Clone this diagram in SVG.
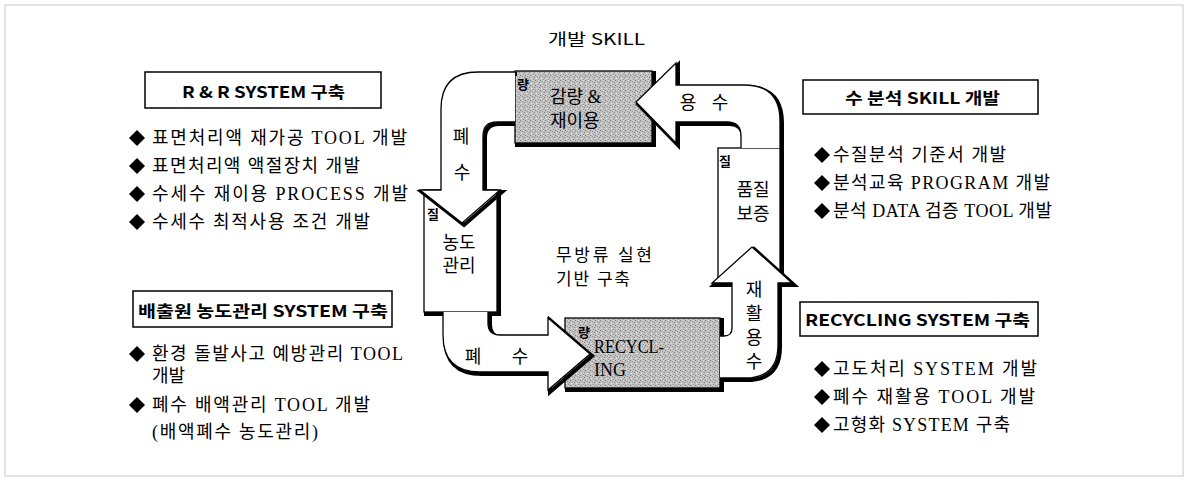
<svg xmlns="http://www.w3.org/2000/svg" width="1188" height="482" viewBox="0 0 1188 482">
<defs>
<pattern id="grain" width="5" height="5" patternUnits="userSpaceOnUse">
<rect width="5" height="5" fill="#c2c2c2"/>
<rect x="0" y="0" width="1" height="1" fill="#7a7a7a"/>
<rect x="2" y="1" width="1" height="1" fill="#969696"/>
<rect x="4" y="2" width="1" height="1" fill="#858585"/>
<rect x="1" y="3" width="1" height="1" fill="#e4e4e4"/>
<rect x="3" y="4" width="1" height="1" fill="#909090"/>
<rect x="3" y="0" width="1" height="1" fill="#dedede"/>
</pattern>
<style>
.frame{fill:none;stroke:#c8c8c8;stroke-width:1}
.tbox{fill:#fff;stroke:#000;stroke-width:1.5}
.sh{fill:none;stroke:#000;stroke-width:4;stroke-linejoin:miter}
.wf{fill:#fff;stroke:#000;stroke-width:1.3;stroke-linejoin:miter}
.gf{fill:url(#grain);stroke:#000;stroke-width:1.3}
.sans{font-family:"Noto Sans CJK KR","Liberation Sans",sans-serif;fill:#000}
.ttl{font-size:16px;font-weight:bold}
.hd{font-size:16px;font-weight:normal}
.ser{font-family:"Liberation Serif","Noto Sans CJK KR",serif;font-size:18px;fill:#000}
.ctr{font-family:"Liberation Serif","Noto Sans CJK KR",serif;font-size:17px;fill:#000}
.lbl{font-family:"Liberation Serif","Noto Sans CJK KR",serif;font-size:18px;fill:#000}
.sm{font-family:"Noto Sans CJK KR",sans-serif;font-size:13px;font-weight:bold;fill:#000}
.dia{fill:#000}
</style>
</defs>
<rect class="frame" x="5" y="5" width="1178" height="471"/>

<g id="title"><text class="sans hd" x="548" y="38" dominant-baseline="central" textLength="97" lengthAdjust="spacingAndGlyphs">개발 SKILL</text></g>

<g id="rr-system">
<rect class="tbox" x="145" y="72" width="236" height="36"/>
<text class="sans ttl" x="182" y="91" dominant-baseline="central" textLength="163" lengthAdjust="spacingAndGlyphs">R &amp; R SYSTEM 구축</text>
<polygon class="dia" points="137,130 145,138 137,146 129,138"/>
<text class="ser" x="152" y="138" dominant-baseline="central" textLength="255" lengthAdjust="spacing">표면처리액 재가공 TOOL 개발</text>
<polygon class="dia" points="137,158 145,166 137,174 129,166"/>
<text class="ser" x="152" y="166" dominant-baseline="central" textLength="208" lengthAdjust="spacing">표면처리액 액절장치 개발</text>
<polygon class="dia" points="137,186 145,194 137,202 129,194"/>
<text class="ser" x="152" y="194" dominant-baseline="central" textLength="256" lengthAdjust="spacing">수세수 재이용 PROCESS 개발</text>
<polygon class="dia" points="137,214 145,222 137,230 129,222"/>
<text class="ser" x="152" y="222" dominant-baseline="central" textLength="218" lengthAdjust="spacing">수세수 최적사용 조건 개발</text>
</g>

<g id="source-system">
<rect class="tbox" x="133" y="291" width="259" height="36"/>
<text class="sans ttl" x="138" y="310" dominant-baseline="central" textLength="250" lengthAdjust="spacingAndGlyphs">배출원 농도관리 SYSTEM 구축</text>
<polygon class="dia" points="137,346 145,354 137,362 129,354"/>
<text class="ser" x="152" y="354" dominant-baseline="central" textLength="251" lengthAdjust="spacing">환경 돌발사고 예방관리 TOOL</text>
<text class="ser" x="152" y="376" dominant-baseline="central">개발</text>
<polygon class="dia" points="137,397 145,405 137,413 129,405"/>
<text class="ser" x="152" y="405" dominant-baseline="central" textLength="218" lengthAdjust="spacing">폐수 배액관리 TOOL 개발</text>
<text class="ser" x="152" y="432" dominant-baseline="central" textLength="166" lengthAdjust="spacing">(배액폐수 농도관리)</text>
</g>

<g id="analysis-skill">
<rect class="tbox" x="803" y="80" width="235" height="34"/>
<text class="sans ttl" x="845" y="97" dominant-baseline="central" textLength="155" lengthAdjust="spacingAndGlyphs">수 분석 SKILL 개발</text>
<polygon class="dia" points="822,147 830,155 822,163 814,155"/>
<text class="ser" x="833" y="155" dominant-baseline="central" textLength="173" lengthAdjust="spacing">수질분석 기준서 개발</text>
<polygon class="dia" points="822,175 830,183 822,191 814,183"/>
<text class="ser" x="833" y="183" dominant-baseline="central" textLength="217" lengthAdjust="spacing">분석교육 PROGRAM 개발</text>
<polygon class="dia" points="822,203 830,211 822,219 814,211"/>
<text class="ser" x="833" y="211" dominant-baseline="central" textLength="219" lengthAdjust="spacing">분석 DATA 검증 TOOL 개발</text>
</g>

<g id="recycling-system">
<rect class="tbox" x="800" y="302" width="238" height="34"/>
<text class="sans ttl" x="805" y="319" dominant-baseline="central" textLength="225" lengthAdjust="spacingAndGlyphs">RECYCLING SYSTEM 구축</text>
<polygon class="dia" points="822,361 830,369 822,377 814,369"/>
<text class="ser" x="833" y="369" dominant-baseline="central" textLength="204" lengthAdjust="spacing">고도처리 SYSTEM 개발</text>
<polygon class="dia" points="822,389 830,397 822,405 814,397"/>
<text class="ser" x="833" y="397" dominant-baseline="central" textLength="202" lengthAdjust="spacing">폐수 재활용 TOOL 개발</text>
<polygon class="dia" points="822,417 830,425 822,433 814,425"/>
<text class="ser" x="833" y="425" dominant-baseline="central" textLength="177" lengthAdjust="spacing">고형화 SYSTEM 구축</text>
</g>

<g id="center-text">
<text class="ctr" x="556" y="255" dominant-baseline="central" textLength="96" lengthAdjust="spacing">무방류 실현</text>
<text class="ctr" x="556" y="279" dominant-baseline="central" textLength="74" lengthAdjust="spacing">기반 구축</text>
</g>

<g id="node-reduce">
<rect class="sh" x="517" y="73" width="137" height="72"/>
<rect class="gf" x="515" y="71" width="137" height="72"/>
<text class="sm" x="523" y="83" text-anchor="middle" dominant-baseline="central">량</text>
<text class="lbl" x="550" y="97" dominant-baseline="central">감량 &amp;</text>
<text class="lbl" x="550" y="121" dominant-baseline="central">재이용</text>
</g>

<g id="node-recycling">
<rect class="sh" x="567" y="320" width="155" height="70"/>
<rect class="gf" x="565" y="318" width="155" height="70"/>
<text class="sm" x="584" y="331" text-anchor="middle" dominant-baseline="central">량</text>
<text class="lbl" x="594" y="347" dominant-baseline="central" textLength="70" lengthAdjust="spacingAndGlyphs">RECYCL-</text>
<text class="lbl" x="594" y="370" dominant-baseline="central">ING</text>
</g>

<g id="node-concentration">
<rect class="sh" x="426" y="192" width="73" height="122"/>
<rect class="wf" x="424" y="190" width="73" height="122"/>
<text class="sm" x="433" y="213" text-anchor="middle" dominant-baseline="central">질</text>
<text class="lbl" x="459" y="243" text-anchor="middle" dominant-baseline="central">농도</text>
<text class="lbl" x="459" y="266" text-anchor="middle" dominant-baseline="central">관리</text>
</g>

<g id="node-quality">
<rect class="sh" x="720" y="150" width="62" height="135"/>
<rect class="wf" x="718" y="148" width="62" height="135"/>
<text class="sm" x="725" y="160" text-anchor="middle" dominant-baseline="central">질</text>
<text class="lbl" x="753" y="190" text-anchor="middle" dominant-baseline="central">품질</text>
<text class="lbl" x="753" y="214" text-anchor="middle" dominant-baseline="central">보증</text>
</g>

<g id="connectors">
<g id="arrow-wastewater-down">
<path class="sh" transform="translate(2,2)" d="M515,72 L478,72 Q441,72 441,109 L441,190 L420,190 L462,223 L500,190 L483,190 L483,136 Q483,122 497,122 L513,122"/>
<path class="wf" d="M515,72 L478,72 Q441,72 441,109 L441,190 L420,190 L462,223 L500,190 L483,190 L483,136 Q483,122 497,122 L515,122"/>
<text class="lbl" x="461" y="137" text-anchor="middle" dominant-baseline="central">폐</text>
<text class="lbl" x="462" y="173" text-anchor="middle" dominant-baseline="central">수</text>
</g>
<g id="arrow-wastewater-right">
<path class="sh" transform="translate(2,2)" d="M443,312 L443,335 Q443,372 480,372 L548,372 L548,390 L590,354 L548,318 L548,335 L500,335 Q488,335 488,323 L488,312"/>
<path class="wf" d="M443,312 L443,335 Q443,372 480,372 L548,372 L548,390 L590,354 L548,318 L548,335 L500,335 Q488,335 488,323 L488,312"/>
<text class="lbl" x="473" y="357" text-anchor="middle" dominant-baseline="central">폐</text>
<text class="lbl" x="520" y="357" text-anchor="middle" dominant-baseline="central">수</text>
</g>
<g id="arrow-reuse-up">
<path class="sh" transform="translate(2,2)" d="M720,336 L724,336 Q732,336 732,328 L732,283 L712,283 L752,247 L792,283 L778,283 L778,345 Q778,378 745,378 L718,378"/>
<path class="wf" d="M720,336 L724,336 Q732,336 732,328 L732,283 L712,283 L752,247 L792,283 L778,283 L778,345 Q778,378 745,378 L720,378"/>
<text class="lbl" x="754" y="290" text-anchor="middle" dominant-baseline="central">재</text>
<text class="lbl" x="754" y="314" text-anchor="middle" dominant-baseline="central">활</text>
<text class="lbl" x="754" y="338" text-anchor="middle" dominant-baseline="central">용</text>
<text class="lbl" x="754" y="362" text-anchor="middle" dominant-baseline="central">수</text>
</g>
<g id="arrow-water-left">
<path class="sh" transform="translate(2,2)" d="M741,146 L741,136 Q741,122 727,122 L676,122 L676,143 L636,102 L676,63 L676,85 L744,85 Q780,85 780,121 L780,146"/>
<path class="wf" d="M741,148 L741,136 Q741,122 727,122 L676,122 L676,143 L636,102 L676,63 L676,85 L744,85 Q780,85 780,121 L780,148"/>
<text class="lbl" x="688" y="103" text-anchor="middle" dominant-baseline="central">용</text>
<text class="lbl" x="720" y="103" text-anchor="middle" dominant-baseline="central">수</text>
</g>
</g>
</svg>
